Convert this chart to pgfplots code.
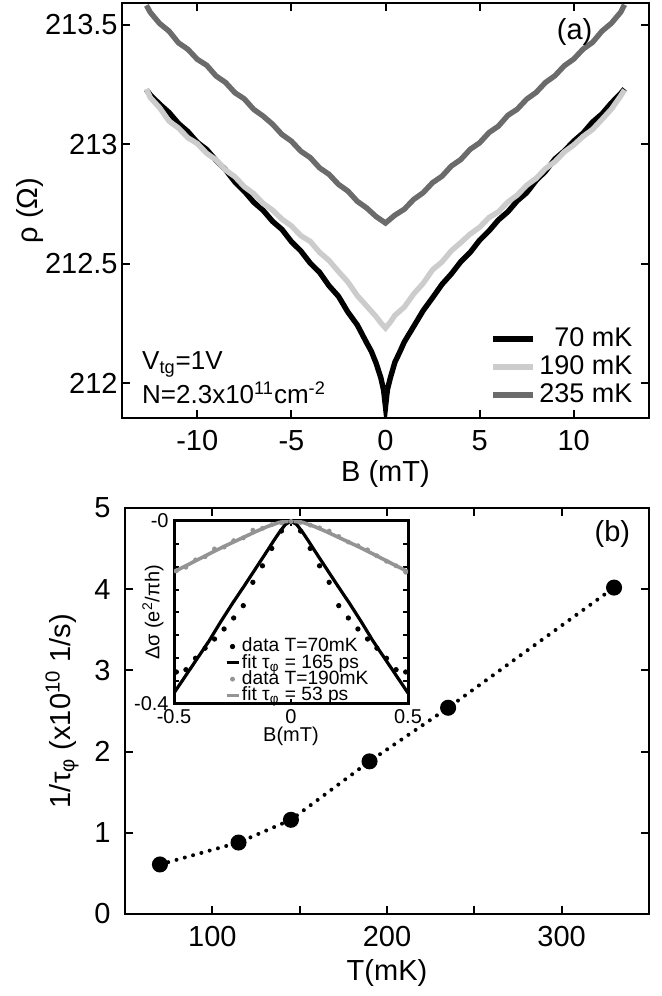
\documentclass[border=0pt]{standalone}
\usepackage{fontspec}
\setmainfont{Liberation Sans}
\usepackage{pgfplots}
\pgfplotsset{compat=1.18}
\definecolor{gA}{gray}{0.42}
\definecolor{gB}{gray}{0.80}
\definecolor{gC}{gray}{0.58}
\pgfplotsset{
  refax/.style={
    scale only axis, scaled ticks=false,
    tick align=inside, major tick length=4pt,
    tick style={line width=1pt, black},
    axis line style={line width=1.3pt},
    /pgf/number format/assume math mode=true,
    tick label style={font=\fontsize{14.5}{16}\selectfont},
    label style={font=\fontsize{14.5}{16}\selectfont},
    clip=true,
  }
}
\begin{document}
\begin{tikzpicture}
\useasboundingbox (0,0) rectangle (331pt,498pt);
% ---------------- panel (a)
\begin{axis}[refax,
  at={(61pt,289pt)}, anchor=south west,
  width=263.5pt, height=207.5pt,
  xmin=-14, xmax=14, ymin=211.853, ymax=213.592,
  xtick={-10,-5,0,5,10}, ytick={212,212.5,213,213.5},
  yticklabels={212,212.5,213,213.5},
  xticklabel style={anchor=center, yshift=-11.5pt},
  yticklabel style={anchor=east, inner sep=0pt, xshift=-2pt},
  xlabel={B (mT)}, ylabel={ρ (Ω)},
  xlabel style={at={(axis description cs:0.5,0)}, anchor=center, yshift=-28pt},
  ylabel style={at={(axis description cs:-0.175,0.5)}, anchor=center},
  legend style={at={(rel axis cs:0.975,0.022)}, anchor=south east, draw=none, fill=none,
    font=\fontsize{13.5}{14}\selectfont, row sep=0pt, inner sep=0pt,
    nodes={inner sep=1.5pt}},
  legend cell align=right,
  legend image code/.code={\draw[#1, line width=3pt] (0pt,0pt) -- (20pt,0pt);},
]
\addplot[black, line width=2.7pt] table {
-12.7 213.228
-12.5 213.207
-12.0 213.168
-11.5 213.133
-11.0 213.087
-10.5 213.053
-10.0 213.008
-9.5 212.978
-9.0 212.932
-8.5 212.893
-8.0 212.842
-7.5 212.803
-7.0 212.757
-6.5 212.723
-6.0 212.677
-5.5 212.643
-5.0 212.592
-4.5 212.553
-4.0 212.502
-3.5 212.463
-3.0 212.407
-2.5 212.363
-2.0 212.297
-1.5 212.243
-1.0 212.168
-0.75 212.132
-0.5 212.083
-0.25 212.022
-0.1 211.970
0 211.900
0.1 211.972
0.25 212.019
0.5 212.087
0.75 212.128
1.0 212.172
1.5 212.237
2.0 212.303
2.5 212.357
3.0 212.413
3.5 212.457
4.0 212.508
4.5 212.547
5.0 212.598
5.5 212.637
6.0 212.683
6.5 212.717
7.0 212.763
7.5 212.797
8.0 212.848
8.5 212.887
9.0 212.938
9.5 212.972
10.0 213.013
10.5 213.047
11.0 213.093
11.5 213.127
12.0 213.173
12.5 213.213
12.7 213.232
};
\addlegendentry{70 mK}
\addplot[gB, line width=2.7pt] table {
-12.7 213.232
-12.5 213.196
-12.0 213.153
-11.5 213.097
-11.0 213.068
-10.5 213.027
-10.0 213.003
-9.5 212.962
-9.0 212.934
-8.5 212.892
-8.0 212.864
-7.5 212.822
-7.0 212.793
-6.5 212.752
-6.0 212.724
-5.5 212.686
-5.0 212.658
-4.5 212.617
-4.0 212.593
-3.5 212.547
-3.0 212.513
-2.5 212.467
-2.0 212.423
-1.5 212.366
-1.0 212.322
-0.5 212.278
-0.25 212.252
0 212.230
0.25 212.254
0.5 212.283
1.0 212.318
1.5 212.373
2.0 212.417
2.5 212.474
3.0 212.507
3.5 212.554
4.0 212.588
4.5 212.624
5.0 212.652
5.5 212.693
6.0 212.717
6.5 212.758
7.0 212.787
7.5 212.828
8.0 212.857
8.5 212.898
9.0 212.927
9.5 212.968
10.0 212.997
10.5 213.033
11.0 213.062
11.5 213.104
12.0 213.147
12.5 213.203
12.7 213.228
};
\addlegendentry{190 mK}
\addplot[gA, line width=2.7pt] table {
-12.7 213.582
-12.5 213.553
-12.0 213.506
-11.5 213.474
-11.0 213.425
-10.5 213.398
-10.0 213.356
-9.5 213.331
-9.0 213.286
-8.5 213.259
-8.0 213.216
-7.5 213.190
-7.0 213.146
-6.5 213.118
-6.0 213.084
-5.5 213.041
-5.0 213.013
-4.5 212.971
-4.0 212.944
-3.5 212.901
-3.0 212.874
-2.5 212.832
-2.0 212.804
-1.5 212.761
-1.0 212.733
-0.5 212.697
0 212.670
0.5 212.703
1.0 212.728
1.5 212.769
2.0 212.797
2.5 212.839
3.0 212.866
3.5 212.909
4.0 212.936
4.5 212.979
5.0 213.006
5.5 213.049
6.0 213.076
6.5 213.121
7.0 213.147
7.5 213.189
8.0 213.217
8.5 213.259
9.0 213.287
9.5 213.329
10.0 213.357
10.5 213.399
11.0 213.427
11.5 213.474
12.0 213.507
12.5 213.554
12.7 213.585
};
\addlegendentry{235 mK}
\node[anchor=center, font=\fontsize{14.5}{16}\selectfont] at (axis cs:10.05,213.47) {(a)};
\node[anchor=west, font=\fontsize{13}{14}\selectfont, inner sep=0pt] at (axis cs:-12.95,212.077) {V\textsubscript{tg}=1V};
\node[anchor=west, font=\fontsize{13}{14}\selectfont, inner sep=0pt] at (axis cs:-12.95,211.96) {N=2.3x10\textsuperscript{11}cm\textsuperscript{-2}};
\end{axis}
% ---------------- panel (b)
\begin{axis}[refax,
  at={(62.5pt,41pt)}, anchor=south west,
  width=262pt, height=203pt,
  xmin=50, xmax=350, ymin=0, ymax=5,
  xtick={100,150,200,250,300}, xticklabels={100,,200,,300},
  ytick={0,1,2,3,4,5},
  xticklabel style={anchor=center, yshift=-11.5pt},
  yticklabel style={anchor=east, inner sep=0pt, xshift=-7pt},
  xlabel={T(mK)}, ylabel={1/τ\textsubscript{φ} (x10\textsuperscript{10} 1/s)},
  xlabel style={at={(axis description cs:0.5,0)}, anchor=center, yshift=-29.5pt},
  ylabel style={at={(axis description cs:-0.12,0.5)}, anchor=center},
]
\addplot[black, line width=2pt, dash pattern=on 0pt off 4.3pt, line cap=round,
  mark=*, mark size=3pt, mark options={solid, fill=black}] table {
70 0.61
115 0.88
145 1.16
190 1.88
235 2.54
330 4.02
};
\node[anchor=center, font=\fontsize{14.5}{16}\selectfont] at (axis cs:329,4.68) {(b)};
\end{axis}
% ---------------- inset
\begin{axis}[
  at={(87pt,146pt)}, anchor=south west,
  width=117pt, height=91.5pt, scale only axis, scaled ticks=false,
  axis background/.style={fill=white},
  xmin=-0.5, xmax=0.5, ymin=-0.4, ymax=0,
  xtick={-0.5,0,0.5}, xticklabels={-0.5,0,0.5},
  ytick={-0.4,-0.35,-0.3,-0.25,-0.2,-0.15,-0.1,-0.05,0},
  yticklabels={-0.4,,,,,,,,-0},
  tick align=inside, major tick length=2.5pt,
  tick style={line width=1pt, black},
  axis line style={line width=1.5pt},
  tick label style={font=\fontsize{10}{11}\selectfont},
  label style={font=\fontsize{10}{11}\selectfont},
  xticklabel style={anchor=center, yshift=-6.5pt},
  yticklabel style={anchor=east, inner sep=0pt, xshift=-2.5pt},
  xlabel={B(mT)}, ylabel={Δσ (e\textsuperscript{2}/πh)},
  xlabel style={at={(axis description cs:0.5,0)}, anchor=center, yshift=-16pt},
  ylabel style={at={(axis description cs:-0.09,0.5)}, anchor=center},
  legend style={at={(rel axis cs:0.215,0.0)}, anchor=south west, draw=none, fill=none,
    font=\fontsize{9.6}{10}\selectfont, row sep=0pt, inner sep=0pt,
    nodes={inner xsep=0.8pt, inner ysep=0pt, text height=6.8pt, text depth=1.35pt}},
  legend cell align=left,
  legend image code/.code={\draw[mark repeat=2,mark phase=2,#1] plot coordinates {(0pt,0pt) (3pt,0pt) (6pt,0pt)};},
]
\addplot[only marks, mark=*, mark size=1.1pt, black] table {
-0.490 -0.330
-0.449 -0.325
-0.408 -0.300
-0.367 -0.278
-0.327 -0.258
-0.286 -0.236
-0.245 -0.212
-0.204 -0.185
-0.163 -0.134
-0.122 -0.098
-0.082 -0.060
-0.041 -0.022
0 -0.002
0.041 -0.022
0.082 -0.060
0.122 -0.098
0.163 -0.134
0.204 -0.185
0.245 -0.212
0.286 -0.236
0.327 -0.258
0.367 -0.278
0.408 -0.300
0.449 -0.325
0.490 -0.330
};
\addlegendentry{data T=70mK}
\addplot[black, line width=1.6pt] table {
-0.5 -0.376
-0.45 -0.338
-0.4 -0.300
-0.35 -0.262
-0.3 -0.220
-0.25 -0.180
-0.2 -0.142
-0.15 -0.103
-0.1 -0.064
-0.075 -0.044
-0.05 -0.025
-0.025 -0.008
0 0
0.025 -0.008
0.05 -0.025
0.075 -0.044
0.1 -0.064
0.15 -0.103
0.2 -0.142
0.25 -0.180
0.3 -0.220
0.35 -0.262
0.4 -0.300
0.45 -0.338
0.5 -0.376
};
\addlegendentry{fit τ\textsubscript{φ} = 165 ps}
\addplot[only marks, mark=*, mark size=1pt, gC] table {
-0.490 -0.109
-0.449 -0.101
-0.408 -0.085
-0.367 -0.078
-0.327 -0.061
-0.286 -0.057
-0.245 -0.043
-0.204 -0.037
-0.163 -0.020
-0.122 -0.016
-0.082 -0.008
-0.041 -0.004
0 -0.001
0.041 -0.003
0.082 -0.009
0.122 -0.015
0.163 -0.022
0.204 -0.034
0.245 -0.046
0.286 -0.054
0.327 -0.063
0.367 -0.076
0.408 -0.088
0.449 -0.098
0.490 -0.112
};
\addlegendentry{data T=190mK}
\addplot[gC, line width=1.8pt] table {
-0.5 -0.111
-0.45 -0.098
-0.4 -0.085
-0.35 -0.072
-0.3 -0.059
-0.25 -0.047
-0.2 -0.035
-0.15 -0.023
-0.1 -0.012
-0.05 -0.003
0 0
0.05 -0.003
0.1 -0.012
0.15 -0.023
0.2 -0.035
0.25 -0.047
0.3 -0.059
0.35 -0.072
0.4 -0.085
0.45 -0.098
0.5 -0.111
};
\addlegendentry{fit τ\textsubscript{φ} = 53 ps}
\end{axis}
\end{tikzpicture}
\end{document}
